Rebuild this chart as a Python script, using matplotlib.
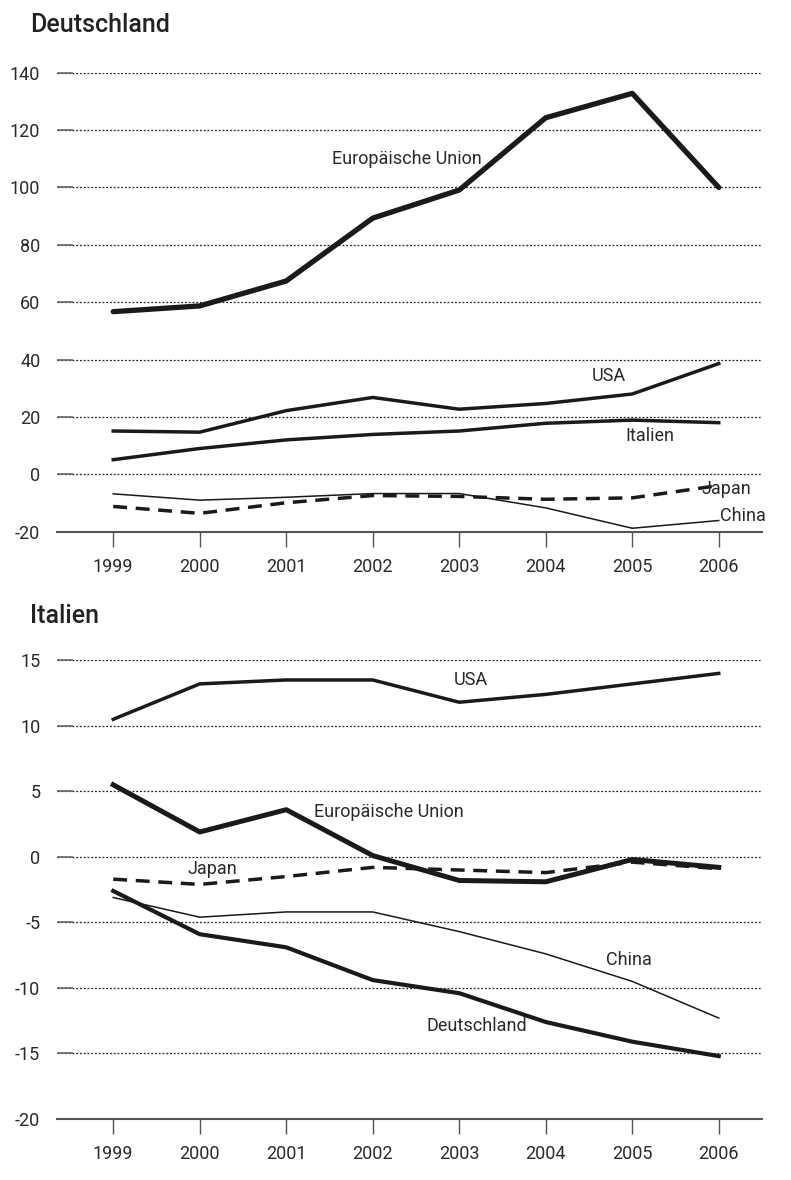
import matplotlib
matplotlib.use("Agg")
import matplotlib.pyplot as plt

years = [1999, 2000, 2001, 2002, 2003, 2004, 2005, 2006]

# Deutschland panel
de_eu = [56.7, 58.7, 67.4, 89.3, 99.1, 124.3, 132.8, 100.0]
de_usa = [15.1, 14.7, 22.2, 26.8, 22.7, 24.7, 28.0, 38.6]
de_italien = [5.1, 9.0, 12.0, 13.9, 15.1, 17.8, 18.9, 18.0]
de_china = [-6.8, -9.0, -8.0, -6.7, -6.7, -11.7, -18.8, -16.1]
de_japan = [-11.2, -13.6, -9.9, -7.4, -7.7, -8.7, -8.2, -3.9]

# Italien panel
it_usa = [10.5, 13.2, 13.5, 13.5, 11.8, 12.4, 13.2, 14.0]
it_eu = [5.5, 1.9, 3.6, 0.1, -1.8, -1.9, -0.2, -0.8]
it_japan = [-1.7, -2.1, -1.5, -0.8, -1.0, -1.2, -0.4, -0.9]
it_china = [-3.1, -4.6, -4.2, -4.2, -5.7, -7.4, -9.5, -12.3]
it_deutschland = [-2.6, -5.9, -6.9, -9.4, -10.4, -12.6, -14.1, -15.2]

de_ticks = [-20, 0, 20, 40, 60, 80, 100, 120, 140]
it_ticks = [-20, -15, -10, -5, 0, 5, 10, 15]

plt.rcParams["font.family"] = ["Roboto", "DejaVu Sans"]
TXT = "#2a2a2a"
LINE = "#1a1a1a"

fig = plt.figure(figsize=(7.91, 11.80), dpi=100)
W, H = 791.0, 1180.0


def make_ax(top_px, bottom_px, ticks):
    ax = fig.add_axes([57 / W, 1 - bottom_px / H, (762 - 57) / W, (bottom_px - top_px) / H])
    ax.set_xlim(1998.35, 2006.5)
    ax.set_ylim(ticks[0], ticks[-1])
    ax.set_yticks(ticks)
    ax.set_yticklabels([str(t) for t in ticks])
    ax.set_xticks(years)
    ax.set_xticklabels([str(y) for y in years])
    for s in ["top", "right", "left"]:
        ax.spines[s].set_visible(False)
    ax.spines["bottom"].set_color("#555555")
    ax.spines["bottom"].set_linewidth(1.5)
    ax.grid(axis="y", linestyle=(0, (1.5, 1.5)), color="#222222", linewidth=0.9)
    ax.tick_params(axis="y", direction="in", length=11.5, width=1.2, color="#666666",
                   pad=12, labelsize=13, labelcolor=TXT)
    ax.tick_params(axis="x", direction="out", length=11, width=1, color="#555555",
                   pad=8, labelsize=13, labelcolor=TXT)
    return ax


ax1 = make_ax(72.7, 531.7, de_ticks)
ax1.plot(years, de_eu, color=LINE, lw=3.8, solid_capstyle="round", clip_on=False)
ax1.plot(years, de_usa, color=LINE, lw=2.5, clip_on=False)
ax1.plot(years, de_italien, color=LINE, lw=2.5, clip_on=False)
ax1.plot(years, de_china, color=LINE, lw=1.1, clip_on=False)
ax1.plot(years, de_japan, color=LINE, lw=2.5, linestyle=(0, (4, 2.5)), clip_on=False)
lab = dict(fontsize=13, color=TXT, ha="center", va="center")
ax1.text(2002.4, 110, "Europäische Union", **lab)
ax1.text(2004.73, 34.4, "USA", **lab)
ax1.text(2005.2, 13.3, "Italien", **lab)
ax1.text(2006.09, -5.0, "Japan", **lab)
ax1.text(2006.28, -14.4, "China", **lab)

ax2 = make_ax(660.3, 1119, it_ticks)
ax2.plot(years, it_usa, color=LINE, lw=2.5, clip_on=False)
ax2.plot(years, it_eu, color=LINE, lw=3.6, clip_on=False)
ax2.plot(years, it_japan, color=LINE, lw=2.5, linestyle=(0, (4, 2.5)), clip_on=False)
ax2.plot(years, it_china, color=LINE, lw=1.1, clip_on=False)
ax2.plot(years, it_deutschland, color=LINE, lw=3.0, clip_on=False)
ax2.text(2003.13, 13.5, "USA", **lab)
ax2.text(2002.19, 3.44, "Europäische Union", **lab)
ax2.text(2000.15, -0.92, "Japan", **lab)
ax2.text(2004.96, -7.9, "China", **lab)
ax2.text(2003.2, -12.9, "Deutschland", **lab)

fig.text(30 / W, 1 - 25 / H, "Deutschland", fontsize=18, fontweight="medium",
         color="#222222", ha="left", va="center")
fig.text(30 / W, 1 - 616 / H, "Italien", fontsize=18, fontweight="medium",
         color="#222222", ha="left", va="center")

fig.savefig("out.png", dpi=100)
